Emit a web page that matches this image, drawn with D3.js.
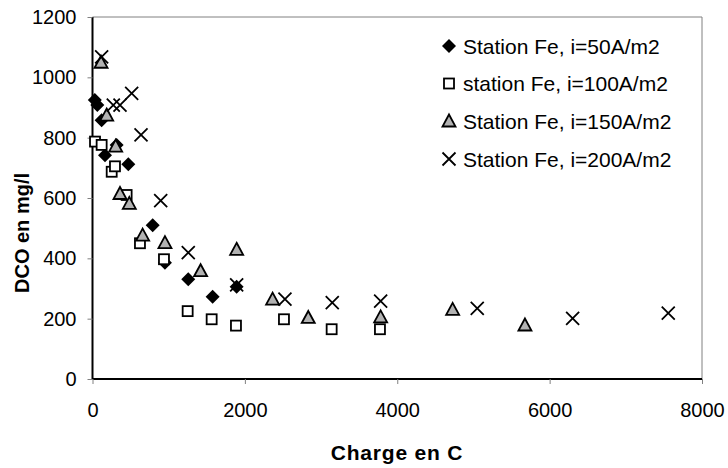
<!DOCTYPE html>
<html><head><meta charset="utf-8">
<script src="https://cdn.jsdelivr.net/npm/d3@7"></script>
<style>body{margin:0;background:#fff;} svg{display:block;font-family:"Liberation Sans",Arial,sans-serif;}</style>
</head><body>
<script>
const seriesNames = ["Station Fe, i=50A/m2","station Fe, i=100A/m2","Station Fe, i=150A/m2","Station Fe, i=200A/m2"];
const s50x  = [30, 63, 120, 164, 317, 470, 790, 951, 1257, 1577, 1892];
const s50y  = [925, 908, 858, 742, 776, 712, 510, 385, 331, 273, 306];
const s100x = [33, 120, 252, 295, 448, 623, 938, 1249, 1564, 1883, 2513, 3139, 3773];
const s100y = [787, 776, 687, 705, 610, 450, 397, 225, 198, 177, 198, 165, 165];
const s150x = [112, 186, 304, 361, 483, 658, 951, 1419, 1892, 2364, 2832, 3782, 4727, 5676];
const s150y = [1050, 875, 772, 615, 582, 477, 452, 359, 430, 265, 204, 206, 231, 179];
const s200x = [120, 273, 361, 514, 637, 895, 1257, 1892, 2526, 3147, 3782, 5050, 6302, 7557];
const s200y = [1068, 908, 908, 947, 809, 591, 419, 312, 265, 253, 258, 234, 201, 218];
const xTicks = [0, 2000, 4000, 6000, 8000];
const yTicks = [0, 200, 400, 600, 800, 1000, 1200];

const W = 728, H = 468;
const L = 92.5, R = 702, T = 17, B = 379;
const svg = d3.select("body").append("svg").attr("width", W).attr("height", H);
const x = d3.scaleLinear().domain([0, 8000]).range([L, R]);
const y = d3.scaleLinear().domain([0, 1200]).range([B, T]);

svg.append("line").attr("x1", L).attr("x2", R).attr("y1", T).attr("y2", T).attr("stroke", "#808080").attr("stroke-width", 1);
svg.append("line").attr("x1", R).attr("x2", R).attr("y1", T).attr("y2", B).attr("stroke", "#808080").attr("stroke-width", 1);

const xAxis = svg.append("g").attr("transform", `translate(0,${B})`)
  .call(d3.axisBottom(x).tickValues(xTicks).tickSize(5).tickPadding(19).tickFormat(d3.format("d")));
const yAxis = svg.append("g").attr("transform", `translate(${L},0)`)
  .call(d3.axisLeft(y).tickValues(yTicks).tickSize(5).tickPadding(11).tickFormat(d3.format("d")));
[xAxis, yAxis].forEach(g => {
  g.select(".domain").attr("stroke", "#000").attr("stroke-width", 2);
  g.selectAll(".tick line").attr("stroke", "#808080").attr("stroke-width", 1);
  g.selectAll("text").attr("font-size", 20).attr("fill", "#000").attr("font-family", "Liberation Sans, Arial, sans-serif");
});
xAxis.select(".domain").attr("d", `M${L},0H${R}`);
yAxis.select(".domain").attr("d", `M0,${B}V${T}`);

svg.append("text").attr("x", 397).attr("y", 460).attr("text-anchor", "middle")
  .attr("font-size", 21).attr("font-weight", "bold").attr("letter-spacing", 0.8).text("Charge en C");
svg.append("text").attr("transform", "translate(29,233) rotate(-90)").attr("text-anchor", "middle")
  .attr("font-size", 20).attr("font-weight", "bold").text("DCO en mg/l");

function marker(g, type, cx, cy) {
  if (type === 0) {
    g.append("path").attr("d", `M${cx},${cy-7}L${cx+7},${cy}L${cx},${cy+7}L${cx-7},${cy}Z`).attr("fill", "#000");
  } else if (type === 1) {
    g.append("rect").attr("x", cx-5).attr("y", cy-5).attr("width", 10).attr("height", 10)
      .attr("fill", "#fff").attr("stroke", "#000").attr("stroke-width", 1.8);
  } else if (type === 2) {
    g.append("path").attr("d", `M${cx},${cy-6.5}L${cx+6.5},${cy+5.5}L${cx-6.5},${cy+5.5}Z`)
      .attr("fill", "#b2b2b2").attr("stroke", "#000").attr("stroke-width", 1.8);
  } else {
    g.append("path").attr("d", `M${cx-6.5},${cy-6.5}L${cx+6.5},${cy+6.5}M${cx+6.5},${cy-6.5}L${cx-6.5},${cy+6.5}`)
      .attr("stroke", "#000").attr("stroke-width", 1.8).attr("fill", "none");
  }
}

const all = [[s50x, s50y], [s100x, s100y], [s150x, s150y], [s200x, s200y]];
all.forEach(([xs, ys], i) => {
  const g = svg.append("g");
  xs.forEach((xv, j) => marker(g, i, x(xv), y(ys[j])));
});

const leg = svg.append("g");
const legY = [46, 83.5, 121, 159];
seriesNames.forEach((n, i) => {
  marker(leg, i, 449, legY[i]);
  leg.append("text").attr("x", 463).attr("y", legY[i] + 7.5).attr("font-size", 21).attr("fill", "#000").text(n);
});
</script>
</body></html>
